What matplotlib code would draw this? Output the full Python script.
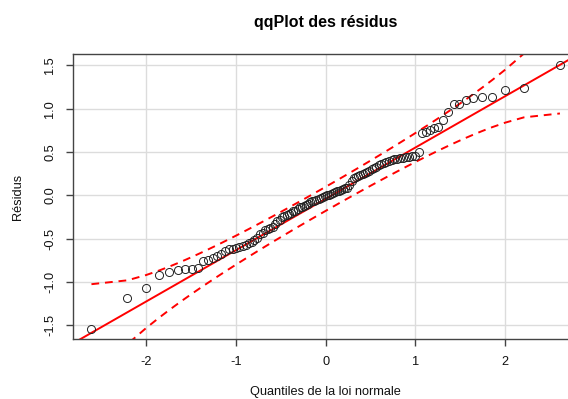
import matplotlib
matplotlib.use("Agg")
import matplotlib.pyplot as plt
import numpy as np
from statistics import NormalDist

plt.rcParams['font.family'] = ['Liberation Sans', 'DejaVu Sans']
plt.rcParams['axes.unicode_minus'] = False

# sorted residuals of the fitted model
residus = [
    -1.54, -1.19, -1.07, -0.915, -0.88, -0.865, -0.855, -0.845, -0.835, -0.76,
    -0.75, -0.727, -0.70, -0.68, -0.646, -0.623, -0.615, -0.61, -0.60, -0.59,
    -0.57, -0.555, -0.54, -0.52, -0.49, -0.45, -0.43, -0.405, -0.39, -0.38,
    -0.36, -0.335, -0.30, -0.28, -0.25, -0.24, -0.225, -0.21, -0.20, -0.185,
    -0.175, -0.16, -0.14, -0.135, -0.12, -0.11, -0.095, -0.08, -0.07, -0.06,
    -0.05, -0.04, -0.03, -0.02, -0.01, 0.0, 0.005, 0.015, 0.03, 0.035,
    0.045, 0.055, 0.06, 0.07, 0.08, 0.09, 0.12, 0.17, 0.20, 0.21,
    0.225, 0.235, 0.25, 0.26, 0.27, 0.285, 0.30, 0.32, 0.33, 0.345,
    0.36, 0.375, 0.385, 0.40, 0.41, 0.42, 0.425, 0.43, 0.435, 0.44,
    0.445, 0.45, 0.46, 0.50, 0.72, 0.73, 0.75, 0.775, 0.785, 0.875,
    0.96, 1.05, 1.05, 1.105, 1.13, 1.14, 1.14, 1.215, 1.245, 1.51,
]
# reference line (intercept, slope)
droite = (-0.04, 0.593)
niveau = 0.95

y = np.array(residus)
n = len(y)
nd = NormalDist()
P = (np.arange(1, n + 1) - 0.5) / n
z = np.array([nd.inv_cdf(p) for p in P])

# pointwise confidence envelope around the line
a, b = droite
zz = nd.inv_cdf(1 - (1 - niveau) / 2)
dens = np.array([nd.pdf(v) for v in z])
se = (b / dens) * np.sqrt(P * (1 - P) / n)
fit = a + b * z

fig = plt.figure(figsize=(5.68, 3.99), dpi=100)
ax = fig.add_axes([0.128, 0.1496, 0.8908, 0.715])

ax.grid(True, color='#dcdcdc', lw=1)
ax.set_axisbelow(True)

xs = np.array([-3, 3])
ax.plot(xs, a + b * xs, color='red', lw=1.4)
ax.plot(z, fit + zz * se, color='red', lw=1.4, ls=(0, (4, 3)))
ax.plot(z, fit - zz * se, color='red', lw=1.4, ls=(0, (4, 3)))
ax.plot(z, y, 'o', ms=5.8, mfc='none', mec='#222222', mew=0.7)

# 4% padding like R's default axis range
px = 0.04 * (z.max() - z.min())
py = 0.04 * (y.max() - y.min())
ax.set_xlim(z.min() - px, z.max() + px)
ax.set_ylim(y.min() - py, y.max() + py)

ax.set_xticks([-2, -1, 0, 1, 2])
ax.set_yticks([-1.5, -1.0, -0.5, 0.0, 0.5, 1.0, 1.5])
ax.set_yticklabels(['-1.5', '-1.0', '-0.5', '0.0', '0.5', '1.0', '1.5'],
                   rotation=90, va='center')
ax.tick_params(length=5, width=1, color='#444444', labelsize=9.2,
               labelcolor='#111111', pad=7)
for s in ax.spines.values():
    s.set_color('#444444')
    s.set_linewidth(1)

fig.text(325.7 / 568, 1 - 22 / 399, 'qqPlot des résidus', ha='center',
         va='center', fontsize=11.5, fontweight='bold')
fig.text(325.7 / 568, 1 - 392 / 399, 'Quantiles de la loi normale',
         ha='center', va='center', fontsize=9.2, color='#111111')
fig.text(18.5 / 568, 1 - 196.7 / 399, 'Résidus', ha='center', va='center',
         rotation=90, fontsize=9.2, color='#111111')

fig.savefig('out.png', dpi=100)
